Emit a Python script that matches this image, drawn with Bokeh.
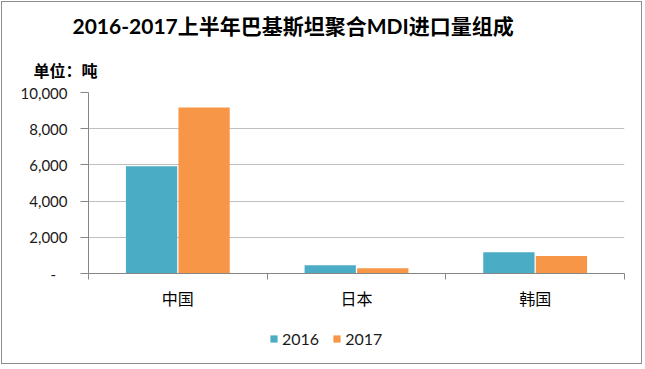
from bokeh.plotting import figure
from bokeh.layouts import column
from bokeh.models import (ColumnDataSource, FixedTicker, CustomJSTickFormatter, Title,
                          Legend, LegendItem, Range1d)
from bokeh.transform import dodge
from bokeh.embed import file_html
from bokeh.resources import INLINE

categories = ["中国", "日本", "韩国"]
series_names = ["2016", "2017"]
values_2016 = [5920, 460, 1180]
values_2017 = [9170, 290, 960]
y_ticks = [0, 2000, 4000, 6000, 8000, 10000]
colors = ["#4BACC6", "#F79646"]

FONT = "Lato, 'Noto Sans CJK SC'"
AXIS_GRAY = "#868686"

xs = [i + 0.5 for i in range(len(categories))]
src = ColumnDataSource(dict(x=xs, v2016=values_2016, v2017=values_2017))

W = 639
H_MAIN = 316
H_LEG = 45

p = figure(width=W, height=H_MAIN, output_backend="svg", toolbar_location=None,
           x_range=Range1d(0, len(categories)), y_range=Range1d(0, 10000),
           min_border_left=86, min_border_right=17, min_border_top=90, min_border_bottom=45)

p.title = Title(text="2016-2017上半年巴基斯坦聚合MDI进口量组成", align="left", offset=-16,
                text_font=FONT, text_font_size="21px", text_font_style="bold",
                text_color="#000000", standoff=15)
unit = Title(text="单位：吨", align="left", offset=-55, text_font=FONT,
             text_font_size="16px", text_font_style="bold", text_color="#000000", standoff=26)
p.add_layout(unit, "above")

r1 = p.vbar(x=dodge("x", -0.147, range=p.x_range), top="v2016", width=0.287, source=src,
            fill_color=colors[0], line_color=None)
r2 = p.vbar(x=dodge("x", 0.147, range=p.x_range), top="v2017", width=0.287, source=src,
            fill_color=colors[1], line_color=None)

p.outline_line_color = None
p.background_fill_color = "white"
p.border_fill_color = "white"

# y axis
p.yaxis.ticker = FixedTicker(ticks=y_ticks)
p.yaxis.formatter = CustomJSTickFormatter(
    code="return tick == 0 ? '-\u00a0\u00a0\u00a0' : tick.toLocaleString('en-US');")
p.yaxis.axis_line_color = AXIS_GRAY
p.yaxis.major_tick_line_color = AXIS_GRAY
p.yaxis.major_tick_out = 8
p.yaxis.major_tick_in = 0
p.yaxis.minor_tick_line_color = None
p.yaxis.major_label_standoff = 13
p.yaxis.major_label_text_font = FONT
p.yaxis.major_label_text_font_size = "15px"
p.yaxis.major_label_text_color = "#1a1a1a"
p.ygrid.grid_line_color = "#BFBFBF"
p.xgrid.grid_line_color = None

# x axis: labels at category centres, tick marks at category boundaries
p.xaxis.ticker = FixedTicker(ticks=xs, minor_ticks=list(range(len(categories) + 1)))
p.xaxis.major_label_overrides = {x: c for x, c in zip(xs, categories)}
p.xaxis.axis_line_color = AXIS_GRAY
p.xaxis.major_tick_line_color = None
p.xaxis.minor_tick_line_color = AXIS_GRAY
p.xaxis.minor_tick_out = 6
p.xaxis.minor_tick_in = 0
p.xaxis.major_tick_out = 0
p.xaxis.major_label_standoff = 9
p.xaxis.major_label_text_font = FONT
p.xaxis.major_label_text_font_size = "16px"
p.xaxis.major_label_text_color = "#000000"

# legend strip (its frame is aligned with the main frame by the column layout)
leg = figure(width=W, height=H_LEG, output_backend="svg", toolbar_location=None,
             x_axis_location=None, y_axis_location=None, min_border=0,
             x_range=Range1d(0, 1), y_range=Range1d(0, 1))
leg.outline_line_color = None
leg.grid.visible = False
placeholder = ColumnDataSource(dict(x=[float("nan")], top=[float("nan")]))
l1 = leg.vbar(x="x", top="top", width=0.1, source=placeholder, fill_color=colors[0], line_color=None)
l2 = leg.vbar(x="x", top="top", width=0.1, source=placeholder, fill_color=colors[1], line_color=None)
legend = Legend(items=[LegendItem(label=series_names[0], renderers=[l1]),
                       LegendItem(label=series_names[1], renderers=[l2])],
                orientation="horizontal", location=(181, 15),
                label_text_font=FONT, label_text_font_size="16px", label_text_color="#1a1a1a",
                glyph_width=9, glyph_height=9, spacing=13, label_standoff=4,
                border_line_color=None, background_fill_alpha=0, margin=0, padding=0)
leg.add_layout(legend, "center")

layout = column(p, leg, spacing=0,
                styles={"border": "1px solid #8c8c8c", "margin-left": "1px", "margin-top": "1px"})

open("out.html", "w").write(file_html(layout, INLINE))
